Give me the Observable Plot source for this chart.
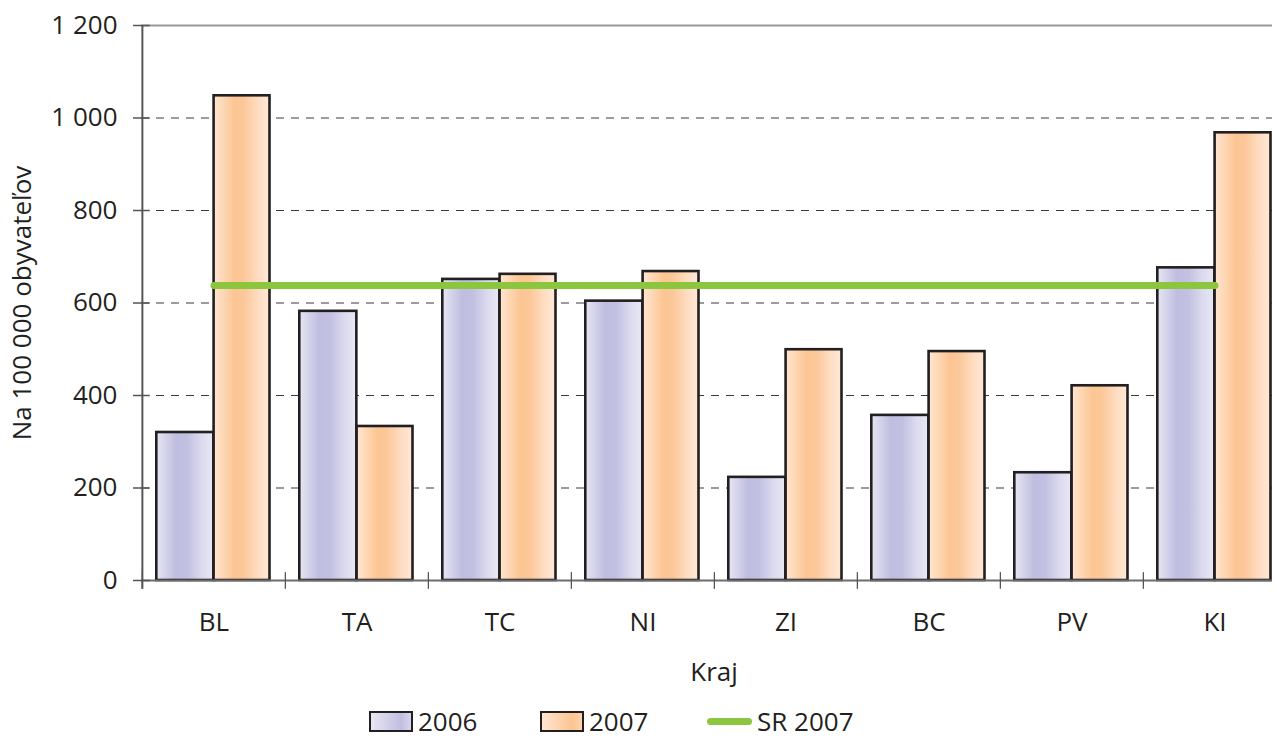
<!DOCTYPE html>
<html>
<head>
<meta charset="utf-8">
<script src="https://cdn.jsdelivr.net/npm/d3@7"></script>
<script src="https://cdn.jsdelivr.net/npm/@observablehq/plot@0.6"></script>
<style>
  body { margin: 0; background: #fff; }
  #wrap { position: relative; width: 1278px; height: 738px; overflow: hidden; font-family: "Open Sans", Lato, sans-serif; color: #231F20; }
  #chart svg { display: block; }
  .lg { position: absolute; top: 705px; height: 32px; display: flex; align-items: center; font-size: 26px; line-height: 32px; white-space: nowrap; }
  .lg span { line-height: 32px; display: block; }
  .sw { width: 40px; height: 17px; border: 2.5px solid #231F20; margin-right: 5px; flex: none; }
  .ln { width: 45px; height: 7px; border-radius: 4px; background: #8CC63F; margin-right: 5px; flex: none; }
</style>
</head>
<body>
<div id="wrap"><div id="chart"></div></div>
<script>
// ---- data ----
const categories = ["BL", "TA", "TC", "NI", "ZI", "BC", "PV", "KI"];
const values2006 = [320, 582, 651, 604, 223, 357, 233, 676];
const values2007 = [1048, 333, 662, 668, 499, 495, 421, 968];
const srValue = 638;
const yTicks = [0, 200, 400, 600, 800, 1000, 1200];
const yTickLabels = ["0", "200", "400", "600", "800", "1 000", "1 200"];
const gridTicks = [200, 400, 600, 800, 1000];
const legendLabels = ["2006", "2007", "SR 2007"];
const xTitle = "Kraj";
const yTitle = "Na 100 000 obyvateľov";

// ---- layout ----
const W = 1278, H = 700, ML = 141, MR = 6, MT = 25, MB = 120;
const step = 143.25;
const ink = "#231F20";
const fs = 26;
const font = "'Open Sans', Lato, sans-serif";

const rows06 = categories.map((k, i) => ({kraj: k, v: values2006[i]}));
const rows07 = categories.map((k, i) => ({kraj: k, v: values2007[i]}));

const plot = Plot.plot({
  width: W, height: H,
  marginLeft: ML, marginRight: MR, marginTop: MT, marginBottom: MB,
  style: {fontFamily: font, fontSize: fs + "px", color: ink, background: "#fff", overflow: "hidden"},
  x: {type: "band", domain: categories, range: [ML, ML + step * categories.length], padding: 0, axis: null},
  y: {domain: [0, 1200], axis: null},
  marks: [
    Plot.ruleY(gridTicks, {y: d => d, stroke: "#3a3a3a", strokeWidth: 1.2, strokeDasharray: "8,7"}),
    Plot.ruleY([1200], {y: d => d, stroke: "#9a9a9a", strokeWidth: 2}),
    Plot.barY(rows06, {x: "kraj", y: "v", fill: "url(#g2006)", stroke: ink, strokeWidth: 2.6, insetLeft: 14.3, insetRight: step - 71.6}),
    Plot.barY(rows07, {x: "kraj", y: "v", fill: "url(#g2007)", stroke: ink, strokeWidth: 2.6, insetLeft: 71.6, insetRight: 15.5}),
    Plot.ruleY([0], {y: d => d, stroke: "#6d6d6d", strokeWidth: 2}),
    Plot.ruleX(categories, {x: d => d, dx: -step / 2, y1: -19, y2: 17, stroke: "#555", strokeWidth: 1.3}),
    Plot.ruleX([categories[0]], {x: d => d, dx: -step / 2, y1: -19, y2: 1200, stroke: "#555", strokeWidth: 2}),
    Plot.tickY(yTicks, {y: d => d, x: () => categories[0], insetLeft: -9, insetRight: step - 8, stroke: "#555", strokeWidth: 1.5}),
    Plot.lineY(categories, {x: d => d, y: () => srValue, stroke: "#8CC63F", strokeWidth: 7, strokeLinecap: "round"}),
    Plot.text(yTicks, {y: d => d, text: (d, i) => yTickLabels[i], frameAnchor: "left", lineAnchor: "middle", dx: -24, textAnchor: "end", fill: ink, fontSize: fs}),
    Plot.text(categories, {x: d => d, text: d => d, frameAnchor: "bottom", lineAnchor: "middle", dy: 42, fill: ink, fontSize: fs}),
    Plot.text([xTitle], {text: d => d, frameAnchor: "bottom", lineAnchor: "middle", dy: 92, dx: 7, fill: ink, fontSize: fs}),
    Plot.text([yTitle], {text: d => d, frameAnchor: "left", lineAnchor: "middle", textAnchor: "middle", dx: -119, rotate: -90, fill: ink, fontSize: fs})
  ]
});

const defs = document.createElementNS("http://www.w3.org/2000/svg", "defs");
defs.innerHTML = `
<linearGradient id="g2006" x1="0" x2="1" y1="0" y2="0">
  <stop offset="0" stop-color="#E6E6F3"/>
  <stop offset="0.35" stop-color="#BFBDE0"/>
  <stop offset="0.55" stop-color="#C3C1E2"/>
  <stop offset="0.8" stop-color="#DCDBEF"/>
  <stop offset="1" stop-color="#E8E8F5"/>
</linearGradient>
<linearGradient id="g2007" x1="0" x2="1" y1="0" y2="0">
  <stop offset="0" stop-color="#FFE6D2"/>
  <stop offset="0.38" stop-color="#FCC592"/>
  <stop offset="0.55" stop-color="#FCC89A"/>
  <stop offset="0.8" stop-color="#FEDDC2"/>
  <stop offset="1" stop-color="#FFE8D6"/>
</linearGradient>`;
plot.insertBefore(defs, plot.firstChild);
document.getElementById("chart").appendChild(plot);

// ---- legend ----
const wrap = document.getElementById("wrap");
const legendItems = [
  {label: legendLabels[0], left: 369, kind: "sw", bg: "linear-gradient(90deg,#E6E6F3,#C0BEE0 75%,#D8D7EE)"},
  {label: legendLabels[1], left: 540, kind: "sw", bg: "linear-gradient(90deg,#FFE6D2,#FCC592 75%,#FDD3AE)"},
  {label: legendLabels[2], left: 707, kind: "ln", bg: "#8CC63F"}
];
legendItems.forEach(it => {
  const d = document.createElement("div");
  d.className = "lg";
  d.style.left = it.left + "px";
  const s = document.createElement("div");
  s.className = it.kind;
  s.style.background = it.bg;
  const t = document.createElement("span");
  t.textContent = it.label;
  d.appendChild(s); d.appendChild(t);
  wrap.appendChild(d);
});
</script>
</body>
</html>
